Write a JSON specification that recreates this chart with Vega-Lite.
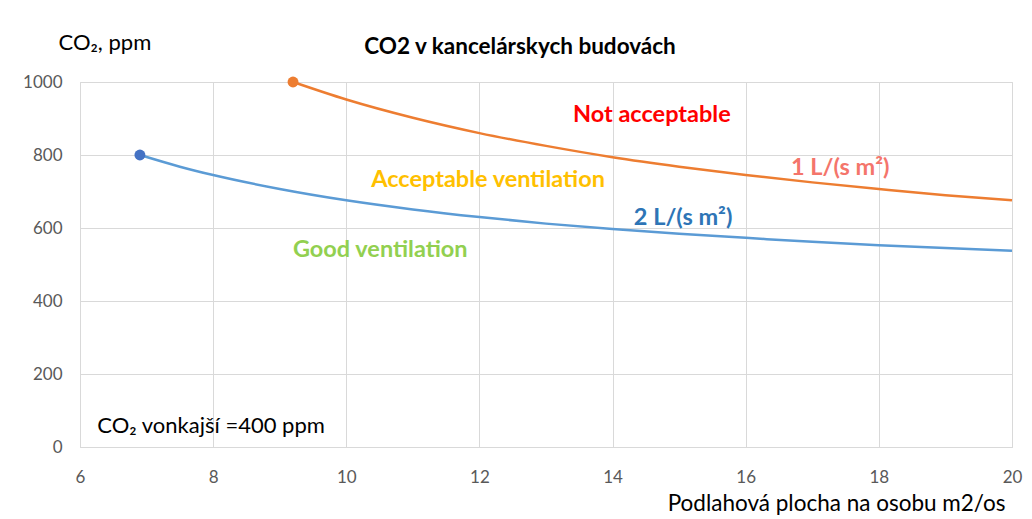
{
  "$schema": "https://vega.github.io/schema/vega-lite/v6.json",
  "width": 932,
  "height": 365,
  "autosize": "none",
  "padding": {"left": 80, "top": 82, "right": 20, "bottom": 72},
  "background": "white",
  "config": {"font": "Lato", "view": {"stroke": "#d9d9d9"}},
  "datasets": {
    "curves": [
      {"x": 9.2, "co2": 1000, "flow": "1 L/(s m²)"},
      {"x": 10, "co2": 952, "flow": "1 L/(s m²)"},
      {"x": 11, "co2": 902, "flow": "1 L/(s m²)"},
      {"x": 12, "co2": 860, "flow": "1 L/(s m²)"},
      {"x": 13, "co2": 825, "flow": "1 L/(s m²)"},
      {"x": 14, "co2": 794, "flow": "1 L/(s m²)"},
      {"x": 15, "co2": 768, "flow": "1 L/(s m²)"},
      {"x": 16, "co2": 745, "flow": "1 L/(s m²)"},
      {"x": 17, "co2": 725, "flow": "1 L/(s m²)"},
      {"x": 18, "co2": 707, "flow": "1 L/(s m²)"},
      {"x": 19, "co2": 690, "flow": "1 L/(s m²)"},
      {"x": 20, "co2": 676, "flow": "1 L/(s m²)"},
      {"x": 6.9, "co2": 800, "flow": "2 L/(s m²)"},
      {"x": 7.5, "co2": 768, "flow": "2 L/(s m²)"},
      {"x": 8, "co2": 745, "flow": "2 L/(s m²)"},
      {"x": 9, "co2": 707, "flow": "2 L/(s m²)"},
      {"x": 10, "co2": 676, "flow": "2 L/(s m²)"},
      {"x": 11, "co2": 651, "flow": "2 L/(s m²)"},
      {"x": 12, "co2": 630, "flow": "2 L/(s m²)"},
      {"x": 13, "co2": 612, "flow": "2 L/(s m²)"},
      {"x": 14, "co2": 597, "flow": "2 L/(s m²)"},
      {"x": 15, "co2": 584, "flow": "2 L/(s m²)"},
      {"x": 16, "co2": 573, "flow": "2 L/(s m²)"},
      {"x": 17, "co2": 562, "flow": "2 L/(s m²)"},
      {"x": 18, "co2": 553, "flow": "2 L/(s m²)"},
      {"x": 19, "co2": 545, "flow": "2 L/(s m²)"},
      {"x": 20, "co2": 538, "flow": "2 L/(s m²)"}
    ],
    "starts": [
      {"x": 9.2, "co2": 1000, "flow": "1 L/(s m²)"},
      {"x": 6.9, "co2": 800, "flow": "2 L/(s m²)"}
    ],
    "labels": [
      {"x": 14.59, "co2": 910, "label": "Not acceptable", "kind": "not"},
      {"x": 12.13, "co2": 731, "label": "Acceptable ventilation", "kind": "acc"},
      {"x": 10.51, "co2": 540, "label": "Good ventilation", "kind": "good"},
      {"x": 17.42, "co2": 764, "label": "1 L/(s m²)", "kind": "l1"},
      {"x": 15.06, "co2": 627, "label": "2 L/(s m²)", "kind": "l2"}
    ],
    "note": [
      {"x": 6.26, "co2": 58, "label": "CO₂  vonkajší =400 ppm"}
    ],
    "heading": [
      {"x": 12.61, "co2": 1096, "label": "CO2 v kancelárskych budovách"}
    ]
  },
  "layer": [
    {
      "data": {"name": "curves"},
      "mark": {"type": "line", "strokeWidth": 2.5, "interpolate": "monotone"},
      "encoding": {
        "x": {"field": "x", "type": "quantitative", "scale": {"domain": [6, 20], "nice": false},
          "axis": {"values": [6, 8, 10, 12, 14, 16, 18, 20], "format": "d", "title": "Podlahová plocha na osobu m2/os", "titleFontSize": 22.5, "titleFontWeight": "normal", "titleColor": "#000000", "titleAnchor": "end", "titleAlign": "right", "titleBaseline": "middle", "titleX": 925, "titleY": 56, "labelFontSize": 17, "labelColor": "#595959", "labelPadding": 22, "domain": true, "domainColor": "#d9d9d9", "ticks": false, "gridColor": "#d9d9d9", "labelFlush": false}},
        "y": {"field": "co2", "type": "quantitative", "scale": {"domain": [0, 1000], "nice": false},
          "axis": {"values": [0, 200, 400, 600, 800, 1000], "format": "d", "title": "CO₂, ppm", "titleAngle": 0, "titleAlign": "left", "titleBaseline": "bottom", "titleX": -22, "titleY": -28, "titleFontSize": 22, "titleFontWeight": "normal", "titleColor": "#000000", "labelFontSize": 17, "labelColor": "#595959", "labelPadding": 18, "domain": false, "ticks": false, "gridColor": "#d9d9d9"}},
        "color": {"field": "flow", "type": "nominal", "scale": {"domain": ["1 L/(s m²)", "2 L/(s m²)"], "range": ["#ED7D31", "#5B9BD5"]}, "legend": null}
      }
    },
    {
      "data": {"name": "starts"},
      "mark": {"type": "circle", "size": 120, "opacity": 1},
      "encoding": {
        "x": {"field": "x", "type": "quantitative"},
        "y": {"field": "co2", "type": "quantitative"},
        "color": {"field": "flow", "type": "nominal", "scale": {"domain": ["1 L/(s m²)", "2 L/(s m²)"], "range": ["#ED7D31", "#4472C4"]}, "legend": null}
      }
    },
    {
      "data": {"name": "labels"},
      "mark": {"type": "text", "fontSize": 23.5, "fontWeight": "bold", "align": "center", "baseline": "middle", "clip": false},
      "encoding": {
        "x": {"field": "x", "type": "quantitative"},
        "y": {"field": "co2", "type": "quantitative"},
        "text": {"field": "label"},
        "color": {"field": "kind", "type": "nominal", "scale": {"domain": ["not", "acc", "good", "l1", "l2"], "range": ["#FF0000", "#FFC000", "#92D050", "#F4756B", "#2E75B6"]}, "legend": null}
      }
    },
    {
      "data": {"name": "note"},
      "mark": {"type": "text", "fontSize": 22, "align": "left", "baseline": "middle", "color": "#000000"},
      "encoding": {
        "x": {"field": "x", "type": "quantitative"},
        "y": {"field": "co2", "type": "quantitative"},
        "text": {"field": "label"}
      }
    },
    {
      "data": {"name": "heading"},
      "mark": {"type": "text", "fontSize": 22.5, "fontWeight": "bold", "align": "center", "baseline": "middle", "color": "#000000"},
      "encoding": {
        "x": {"field": "x", "type": "quantitative"},
        "y": {"field": "co2", "type": "quantitative"},
        "text": {"field": "label"}
      }
    }
  ],
  "resolve": {"scale": {"color": "independent"}}
}
